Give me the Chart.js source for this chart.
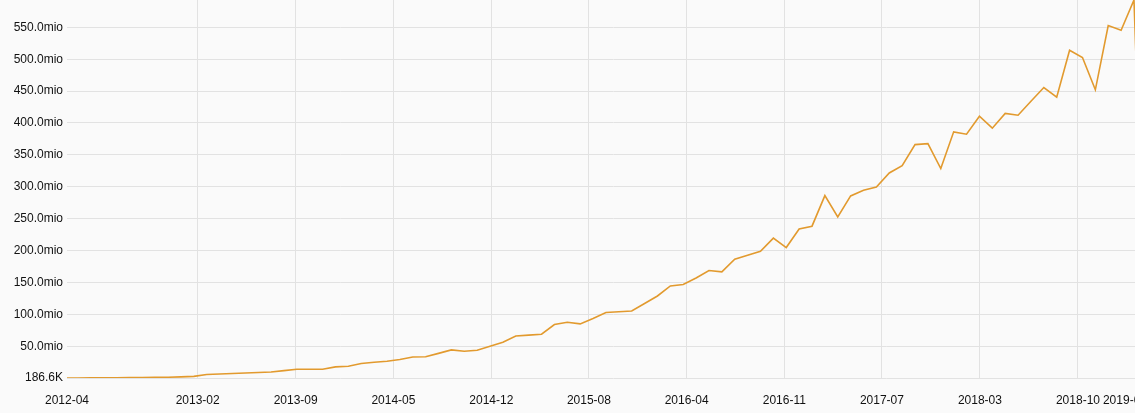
<!DOCTYPE html>
<html>
<head>
<meta charset="utf-8">
<script src="https://cdn.jsdelivr.net/npm/chart.js@4/dist/chart.umd.min.js"></script>
<style>
  html, body { margin: 0; padding: 0; background: #fafafa; overflow: hidden; }
  #wrap { position: relative; width: 1160px; height: 413px; }
</style>
</head>
<body>
<div id="wrap"><canvas id="c"></canvas></div>
<script>
// Series values in millions, one point per ~30-day period (index 0..84)
const values = [
  0.1866, 0.3, 0.4, 0.5, 0.6, 0.7, 0.9, 1.1, 1.4, 2.0,
  2.8, 5.6, 6.4, 7.2, 8.0, 8.9, 9.7, 11.8, 14.0, 14.0,
  14.0, 17.6, 18.7, 22.9, 25.0, 26.5, 29.2, 33.2, 33.5, 38.8,
  44.2, 42.2, 43.7, 50.0, 56.3, 66.1, 67.4, 68.8, 84.0, 87.6,
  85.0, 93.5, 102.8, 104.0, 105.3, 117.0, 128.8, 144.5, 146.7, 157.0,
  168.7, 166.5, 186.4, 192.6, 198.9, 219.5, 204.7, 233.9, 238.2, 286.2,
  252.7, 285.6, 294.5, 299.7, 321.6, 333.2, 366.1, 367.6, 328.5, 386.1,
  382.4, 410.6, 391.8, 414.9, 412.2, 434.0, 455.6, 440.4, 514.1, 502.6,
  452.0, 552.7, 545.3, 592.8, 15.0
];
// X tick labels and where they fall (in point-index units)
const tickLabels = ['2012-04','2013-02','2013-09','2014-05','2014-12','2015-08','2016-04','2016-11','2017-07','2018-03','2018-10','2019-01'];
const tickAt     = [0.155, 10.30, 17.91, 25.50, 33.10, 40.68, 48.27, 55.85, 63.43, 71.04, 78.65, 82.30];
// Y tick values (millions)
const yTicks = [0.1866, 50, 100, 150, 200, 250, 300, 350, 400, 450, 500, 550];

const pts = values.map((v, i) => ({ x: i, y: v * 1e6 }));
const yMin = Math.min(...values) * 1e6;
const yMax = Math.max(...values) * 1e6;

function fmt(v) {
  if (v >= 1e6) return (v / 1e6).toFixed(1) + 'mio';
  return (v / 1e3).toFixed(1) + 'K';
}

new Chart(document.getElementById('c'), {
  type: 'line',
  data: {
    datasets: [{
      data: pts,
      borderColor: 'rgb(226,154,46)',
      borderWidth: 1.6,
      pointRadius: 0,
      tension: 0,
      fill: false
    }]
  },
  options: {
    responsive: true,
    maintainAspectRatio: false,
    animation: false,
    events: [],
    layout: { padding: 0 },
    plugins: { legend: { display: false }, tooltip: { enabled: false } },
    scales: {
      x: {
        type: 'linear',
        min: tickAt[0],
        max: 85.02,
        afterBuildTicks: (s) => { s.ticks = tickAt.map(v => ({ value: v })); },
        afterFit: (s) => { s.height = 35; s.paddingLeft = 0; s.paddingRight = 0; },
        border: { display: false },
        grid: {
          drawTicks: false,
          color: (ctx) => (ctx.index === 0 || ctx.index === tickAt.length - 1) ? 'rgba(0,0,0,0)' : '#e2e2e2',
          lineWidth: 1
        },
        ticks: {
          autoSkip: false,
          maxRotation: 0,
          padding: 15,
          color: '#111',
          font: { family: 'Liberation Sans, Arial, sans-serif', size: 12 },
          callback: (v, i) => tickLabels[i]
        }
      },
      y: {
        type: 'linear',
        min: yMin,
        max: yMax,
        afterBuildTicks: (s) => { s.ticks = yTicks.map(v => ({ value: v * 1e6 })); },
        afterFit: (s) => { s.width = 67; s.paddingTop = 0; s.paddingBottom = 0; },
        border: { display: false },
        grid: { drawTicks: false, color: '#e2e2e2', lineWidth: 1 },
        ticks: {
          padding: 4,
          color: '#111',
          font: { family: 'Liberation Sans, Arial, sans-serif', size: 12 },
          callback: (v) => fmt(v)
        }
      }
    }
  }
});
</script>
</body>
</html>
